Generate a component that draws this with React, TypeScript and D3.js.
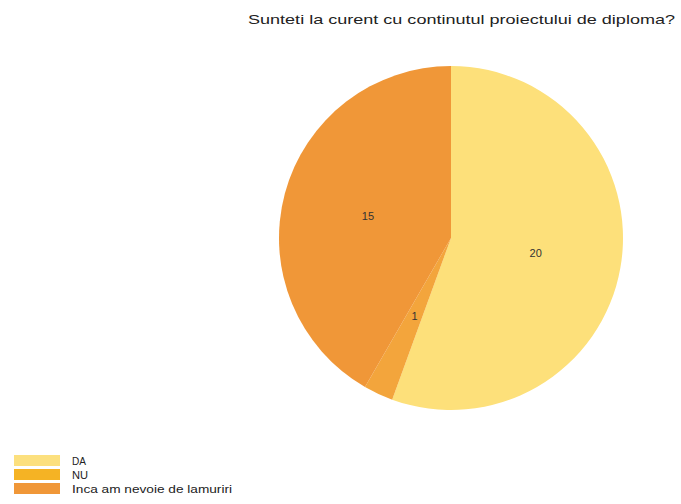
import React from "react";
import * as d3 from "d3";

const categories = ["DA", "NU", "Inca am nevoie de lamuriri"];
const values = [20, 1, 15];
const colors = ["#FDE07A", "#F3A53C", "#F09738"];
const legendColors = ["#FCE07E", "#F5B324", "#F09738"];
const title = "Sunteti la curent cu continutul proiectului de diploma?";

export default function App() {
  const W = 681, H = 504;
  const cx = 451, cy = 238, R = 172;
  const pie = d3.pie<number>().sort(null).value((d) => d)(values);
  const arc = d3.arc<d3.PieArcDatum<number>>().innerRadius(0).outerRadius(R);
  const labelArc = d3.arc<d3.PieArcDatum<number>>().innerRadius(R * 0.5).outerRadius(R * 0.5);
  const legendWidths = [14, 16, 160];
  return (
    <svg width={W} height={H} style={{ position: "absolute", left: 0, top: 0, fontFamily: "Liberation Sans, Arial, sans-serif" }}>
      <text x={248} y={24} fontSize={13} fill="#222" textLength={427} lengthAdjust="spacingAndGlyphs">{title}</text>
      <g transform={`translate(${cx},${cy})`}>
        {pie.map((p, i) => (
          <path key={i} d={arc(p) || ""} fill={colors[i]} />
        ))}
        {pie.map((p, i) => {
          const [x, y] = labelArc.centroid(p);
          return (
            <text key={"l" + i} x={x} y={y} textAnchor="middle" dy="0.35em" fontSize={11} fill="#333">{values[i]}</text>
          );
        })}
      </g>
      <g>
        {categories.map((c, i) => (
          <g key={c} transform={`translate(14,${455 + i * 14})`}>
            <rect x={0} y={0} width={46} height={11} fill={legendColors[i]} />
            <text x={58} y={9.5} fontSize={11} fill="#222" textLength={legendWidths[i]} lengthAdjust="spacingAndGlyphs">{c}</text>
          </g>
        ))}
      </g>
    </svg>
  );
}
